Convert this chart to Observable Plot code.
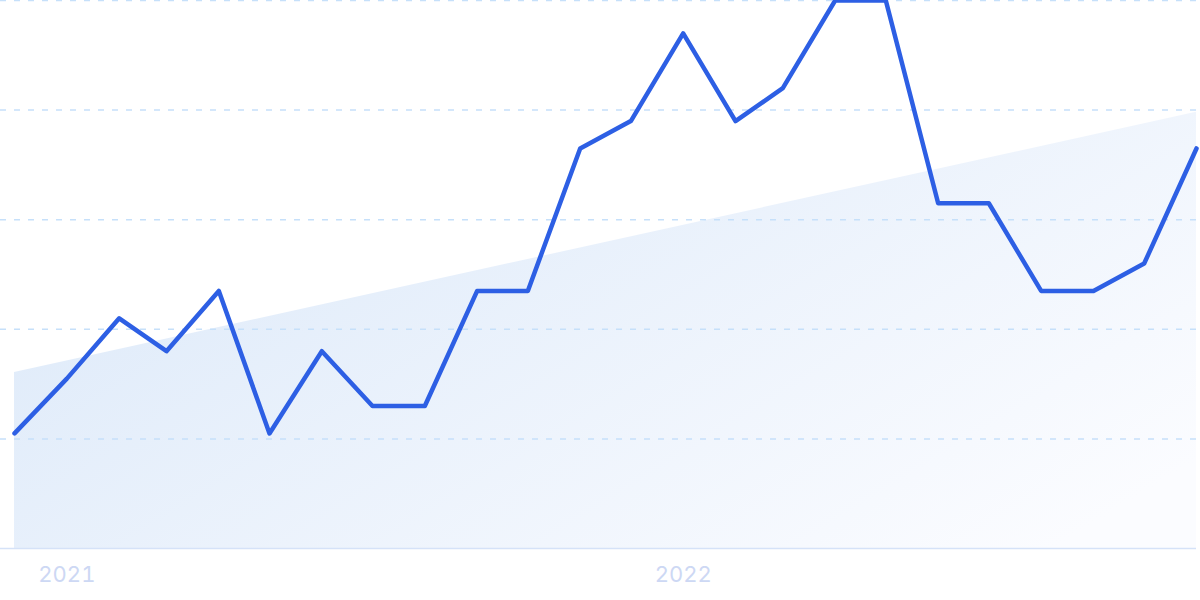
<!DOCTYPE html>
<html>
<head>
<meta charset="utf-8">
<script src="https://cdn.jsdelivr.net/npm/d3@7"></script>
<script src="https://cdn.jsdelivr.net/npm/@observablehq/plot@0.6"></script>
<style>
  html, body { margin: 0; padding: 0; background: #fff; }
  #chart { width: 1200px; height: 600px; }
</style>
</head>
<body>
<div id="chart"></div>
<script>
const months = ["2020-12","2021-01","2021-02","2021-03","2021-04","2021-05","2021-06","2021-07","2021-08","2021-09","2021-10","2021-11","2021-12","2022-01","2022-02","2022-03","2022-04","2022-05","2022-06","2022-07","2022-08","2022-09","2022-10","2022-11"];
const values = [21, 31, 42, 36, 47, 21, 36, 26, 26, 47, 47, 73, 78, 94, 78, 84, 100, 100, 63, 63, 47, 47, 52, 73];
const trendMonths = ["2020-12", "2022-11"];
const trendValues = [32.1, 79.6];
const gridValues = [20, 40, 60, 80, 100];
const tickYears = ["2021-01", "2022-01"];

const parse = d3.utcParse("%Y-%m");
const data = months.map((m, i) => ({date: parse(m), value: values[i]}));
const trend = trendMonths.map((m, i) => ({date: parse(m), value: trendValues[i]}));
const ticks = tickYears.map(parse);

const x0 = new Date(parse(months[0]).getTime() - 8.3 * 864e5);
const x1 = parse(months[months.length - 1]);

const plot = Plot.plot({
  width: 1200,
  height: 600,
  marginTop: 0,
  marginBottom: 52,
  marginLeft: 0,
  marginRight: 4,
  style: {fontFamily: "Inter, sans-serif", background: "#fff"},
  x: {type: "utc", domain: [x0, x1], ticks: ticks, tickFormat: d3.utcFormat("%Y"), tickSize: 0, tickPadding: 18, label: null, fontSize: 22},
  y: {domain: [0, 100], axis: null},
  marks: [
    Plot.areaY(trend, {x: "date", y: "value", fill: "url(#trendGrad)"}),
    Plot.ruleY(gridValues, {stroke: "#c6e0fa", strokeWidth: 1.5, strokeDasharray: "6,8"}),
    Plot.ruleY([0], {stroke: "#d5e2f8", strokeWidth: 1.5}),
    Plot.lineY(data, {x: "date", y: "value", stroke: "#2d5fe4", strokeWidth: 4.5, strokeLinejoin: "round", strokeLinecap: "round"})
  ]
});

const svg = d3.select(plot);
const defs = svg.insert("defs", ":first-child");
const grad = defs.append("linearGradient").attr("id", "trendGrad")
  .attr("x1", "0").attr("y1", "0.2").attr("x2", "1").attr("y2", "0.8");
grad.append("stop").attr("offset", "0%").attr("stop-color", "#dce9f9");
grad.append("stop").attr("offset", "100%").attr("stop-color", "#fbfcff");

svg.selectAll("g[aria-label='x-axis tick label'] text, g[aria-label='x-axis tick label']").attr("fill", "#cdd8f4");
svg.selectAll("g[aria-label='x-axis tick label']").style("font-size", "22px");

document.getElementById("chart").appendChild(plot);
</script>
</body>
</html>
